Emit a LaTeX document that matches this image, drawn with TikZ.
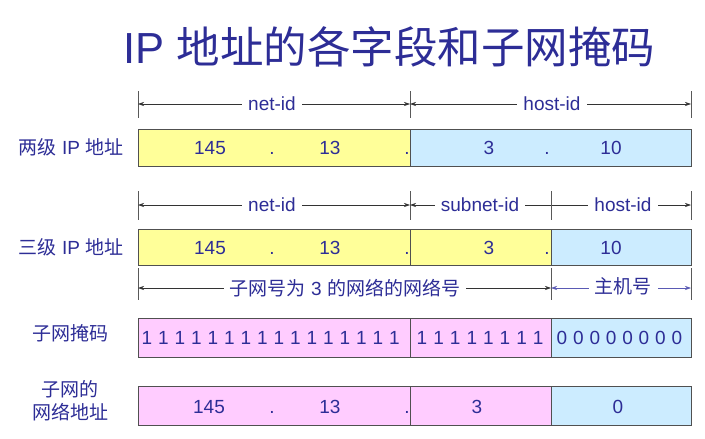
\documentclass[tikz,border=0pt]{standalone}
\usepackage{fontspec}
\setmainfont{Liberation Sans}
\newfontfamily\cjk{Noto Sans CJK SC}
\usetikzlibrary{arrows.meta}
\definecolor{txt}{RGB}{45,45,150}
\definecolor{yel}{RGB}{255,255,153}
\definecolor{lblue}{RGB}{204,236,255}
\definecolor{pnk}{RGB}{255,204,255}
\definecolor{edge}{RGB}{80,80,80}
\definecolor{arrowblue}{RGB}{90,90,180}
\begin{document}
\begin{tikzpicture}[x=1pt,y=-1pt,
  fld/.style={draw=edge, line width=0.8pt},
  sep/.style={draw=edge, line width=0.8pt},
  txtn/.style={text=txt, font=\fontsize{19}{22}\selectfont, inner sep=0pt, anchor=base},
  side/.style={text=txt, font=\fontsize{19}{22}\selectfont, inner sep=0pt, align=center},
  dimlab/.style={text=txt, font=\fontsize{19}{22}\selectfont, fill=white, inner xsep=6pt, inner ysep=1pt},
  tickline/.style={draw=black!65, line width=0.7pt},
  dimline/.style={{Stealth[length=6pt,width=4pt]}-{Stealth[length=6pt,width=4pt]}, line width=0.6pt, draw=black!80}
]
\useasboundingbox (0,0) rectangle (705,439);

% title
\node[text=txt, font=\fontsize{43.5}{48}\selectfont, inner sep=0pt] (title) at (389.5,47) {IP {\cjk 地址的各字段和子网掩码}};

% ---------- row 1: two-level address ----------
\coordinate (t1a) at (138,91); \coordinate (b1a) at (138,118);
\coordinate (t1b) at (410,91); \coordinate (b1b) at (410,118);
\coordinate (t1c) at (691,91); \coordinate (b1c) at (691,118);
\draw[tickline] (t1a) -- (b1a);
\draw[tickline] (t1b) -- (b1b);
\draw[tickline] (t1c) -- (b1c);
\coordinate (d1a) at (138,104); \coordinate (d1b) at (410,104); \coordinate (d1c) at (691,104);
\draw[dimline] (d1a) -- (d1b);
\draw[dimline] (d1b) -- (d1c);
\node[dimlab] (l1a) at (272,104) {net-id};
\node[dimlab] (l1b) at (552,104) {host-id};

\filldraw[fld, fill=yel] (138,129) rectangle (410,166);
\filldraw[fld, fill=lblue] (410,129) rectangle (691,166);
\node[side] (s1) at (71,147) {{\cjk 两级} IP {\cjk 地址}};
\node[txtn] (r1n1) at (210,154) {145};
\node[txtn] (r1d1) at (272,154) {.};
\node[txtn] (r1n2) at (330,154) {13};
\node[txtn] (r1d2) at (407,154) {.};
\node[txtn] (r1n3) at (489,154) {3};
\node[txtn] (r1d3) at (547,154) {.};
\node[txtn] (r1n4) at (611,154) {10};

% ---------- row 2: three-level address ----------
\coordinate (t2a) at (138,191); \coordinate (b2a) at (138,220);
\coordinate (t2b) at (410,191); \coordinate (b2b) at (410,220);
\coordinate (t2c) at (551,191); \coordinate (b2c) at (551,220);
\coordinate (t2d) at (691,191); \coordinate (b2d) at (691,220);
\draw[tickline] (t2a) -- (b2a);
\draw[tickline] (t2b) -- (b2b);
\draw[tickline] (t2c) -- (b2c);
\draw[tickline] (t2d) -- (b2d);
\coordinate (d2a) at (138,205); \coordinate (d2b) at (410,205); \coordinate (d2d) at (691,205);
\draw[dimline] (d2a) -- (d2b);
\draw[dimline] (d2b) -- (d2d);
\node[dimlab] (l2a) at (272,205) {net-id};
\node[dimlab] (l2b) at (480,205) {subnet-id};
\node[dimlab] (l2c) at (623,205) {host-id};
\draw[tickline] (t2c) -- (b2c);

\filldraw[fld, fill=yel] (138,229) rectangle (551,265);
\filldraw[fld, fill=lblue] (551,229) rectangle (691,265);
\draw[sep] (410,229) -- (410,265);
\node[side] (s2) at (71,247) {{\cjk 三级} IP {\cjk 地址}};
\node[txtn] (r2n1) at (210,254) {145};
\node[txtn] (r2d1) at (272,254) {.};
\node[txtn] (r2n2) at (330,254) {13};
\node[txtn] (r2d2) at (407,254) {.};
\node[txtn] (r2n3) at (489,254) {3};
\node[txtn] (r2d3) at (547,254) {.};
\node[txtn] (r2n4) at (611,254) {10};

% ---------- row 3: subnet network number / host number ----------
\coordinate (t3a) at (138,268); \coordinate (b3a) at (138,300);
\coordinate (t3c) at (551,268); \coordinate (b3c) at (551,300);
\coordinate (t3d) at (691,268); \coordinate (b3d) at (691,300);
\draw[tickline] (t3a) -- (b3a);
\draw[tickline] (t3c) -- (b3c);
\draw[tickline] (t3d) -- (b3d);
\coordinate (d3a) at (138,288); \coordinate (d3c) at (551,288); \coordinate (d3d) at (691,288);
\draw[dimline] (d3a) -- (d3c);
\draw[dimline, draw=arrowblue] (d3c) -- (d3d);
\node[dimlab] (l3a) at (345,288) {{\cjk 子网号为} 3 {\cjk 的网络的网络号}};
\node[dimlab] (l3b) at (623,286) {\cjk 主机号};

% ---------- mask row ----------
\filldraw[fld, fill=pnk] (138,318) rectangle (551,357);
\filldraw[fld, fill=lblue] (551,318) rectangle (691,357);
\draw[sep] (410,318) -- (410,357);
\node[side] (s3) at (70,333) {\cjk 子网掩码};
\foreach \i in {0,...,15} {\node[txtn] (ma\i) at ({147+16.5*\i},344) {1};}
\foreach \i in {0,...,7} {\node[txtn] (mb\i) at ({422+16.6*\i},344) {1};}
\foreach \i in {0,...,7} {\node[txtn] (mc\i) at ({562+16.4*\i},344) {0};}

% ---------- subnet address row ----------
\filldraw[fld, fill=pnk] (138,386) rectangle (551,425);
\filldraw[fld, fill=lblue] (551,386) rectangle (691,425);
\draw[sep] (410,386) -- (410,425);
\node[side, font=\fontsize{19}{23}\selectfont\cjk] (s4) at (70,401) {子网的\\网络地址};
\node[txtn] (r4n1) at (209,413) {145};
\node[txtn] (r4d1) at (272,413) {.};
\node[txtn] (r4n2) at (330,413) {13};
\node[txtn] (r4d2) at (407,413) {.};
\node[txtn] (r4n3) at (477,413) {3};
\node[txtn] (r4n4) at (618,413) {0};
\end{tikzpicture}
\end{document}
